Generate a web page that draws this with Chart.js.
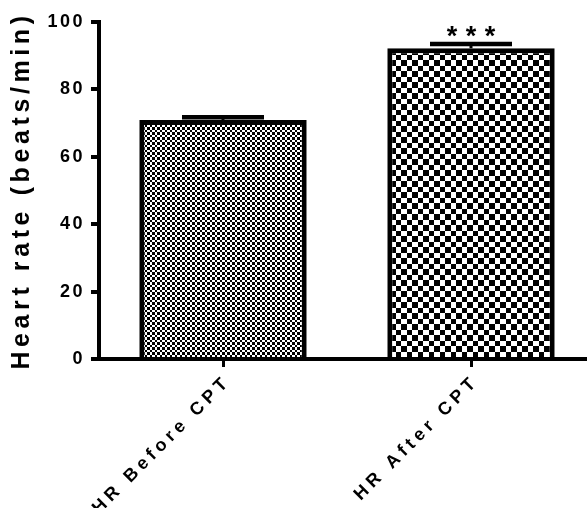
<!DOCTYPE html>
<html>
<head>
<meta charset="utf-8">
<script src="https://cdn.jsdelivr.net/npm/chart.js@4.4.1/dist/chart.umd.min.js"></script>
<style>
  html, body { margin: 0; padding: 0; background: #ffffff; overflow: hidden; }
  #wrap { width: 600px; height: 508px; position: relative; }
</style>
</head>
<body>
<div id="wrap"><canvas id="c"></canvas></div>
<script>
// ---- data ----
const categories = ['HR Before CPT', 'HR After CPT'];
const meanValues = [70.9, 92.2];
const semValues = [0.8, 1.3];
const significance = ['', '***'];
const yTickValues = [0, 20, 40, 60, 80, 100];
const yAxisTitle = 'Heart rate (beats/min)';

const FONT = "'Liberation Sans', Arial, Helvetica, sans-serif";

function checkerPattern(sizes) {
  const period = sizes.reduce((a, b) => a + b, 0);
  const tile = document.createElement('canvas');
  tile.width = period * 2; tile.height = period * 2;
  const t = tile.getContext('2d');
  t.fillStyle = '#ffffff'; t.fillRect(0, 0, tile.width, tile.height);
  t.fillStyle = '#000000';
  const edges = [];
  let p = 0;
  for (let r = 0; r < 2; r++) for (const s of sizes) { edges.push([p, s]); p += s; }
  edges.forEach(([yy, hh], i) => {
    edges.forEach(([xx, ww], j) => {
      if ((i + j) % 2 === 0) t.fillRect(xx, yy, ww, hh);
    });
  });
  return document.getElementById('c').getContext('2d').createPattern(tile, 'repeat');
}

const fills = [checkerPattern([2, 3]), checkerPattern([5, 6])];

function withSpacing(scale, name, sp) {
  const key = '__w_' + name;
  if (scale[key]) return;
  const orig = scale[name];
  scale[name] = function () {
    const c = this.ctx;
    const prevSp = c.letterSpacing;
    c.font = '1px monospace';   // force the next font assignment to be re-resolved
    c.letterSpacing = sp;
    try { return orig.apply(this, arguments); } finally { c.font = '1px monospace'; c.letterSpacing = prevSp; }
  };
  scale[key] = true;
}

const spacingPlugin = {
  id: 'spacing',
  beforeDraw(chart) {
    withSpacing(chart.scales.y, 'drawLabels', '2.5px');
    withSpacing(chart.scales.y, 'drawTitle', '4.6px');
    withSpacing(chart.scales.x, 'drawLabels', '4.5px');
  }
};

const errorBarPlugin = {
  id: 'errorBars',
  afterDatasetsDraw(chart) {
    const ctx = chart.ctx;
    const meta = chart.getDatasetMeta(0);
    const y = chart.scales.y;
    ctx.save();
    ctx.strokeStyle = '#000000';
    ctx.fillStyle = '#000000';
    meta.data.forEach((bar, i) => {
      const top = y.getPixelForValue(meanValues[i] + semValues[i]);
      const base = y.getPixelForValue(meanValues[i]);
      const cx = bar.x;
      ctx.lineWidth = 3;
      ctx.beginPath(); ctx.moveTo(cx, base); ctx.lineTo(cx, top); ctx.stroke();
      ctx.lineWidth = 4.5;
      ctx.beginPath(); ctx.moveTo(cx - 41, top); ctx.lineTo(cx + 41, top); ctx.stroke();
      if (significance[i]) {
        ctx.font = '1px monospace';
        ctx.letterSpacing = '8.5px';
        ctx.font = 'bold 27px ' + FONT;
        ctx.textAlign = 'center';
        ctx.textBaseline = 'alphabetic';
        ctx.fillText(significance[i], cx + 4.25, top + 1.5);
      }
    });
    ctx.restore();
  }
};

new Chart(document.getElementById('c'), {
  type: 'bar',
  data: {
    labels: categories,
    datasets: [{
      data: meanValues,
      backgroundColor: fills,
      borderColor: '#000000',
      borderWidth: 5,
      borderSkipped: 'start',
      barPercentage: 0.675,
      categoryPercentage: 1.0,
      inflateAmount: 0
    }]
  },
  options: {
    responsive: true,
    maintainAspectRatio: false,
    animation: false,
    devicePixelRatio: 1,
    layout: { padding: { top: 22, right: 5, left: 0, bottom: 0 } },
    plugins: { legend: { display: false }, tooltip: { enabled: false } },
    scales: {
      x: {
        grid: { display: true, drawOnChartArea: false, offset: false, tickLength: 8, lineWidth: 3, color: '#000000' },
        border: { display: true, width: 4, color: '#000000' },
        ticks: {
          minRotation: 45, maxRotation: 45, padding: 4, labelOffset: 5,
          color: '#000000',
          font: { family: FONT, size: 18, weight: 'bold' }
        },
        afterFit(scale) { scale.height = 149; }
      },
      y: {
        min: 0, max: 100,
        afterBuildTicks(scale) { scale.ticks = yTickValues.map(v => ({ value: v })); },
        grid: { display: true, drawOnChartArea: false, tickLength: 8, lineWidth: 4, color: '#000000' },
        border: { display: true, width: 4, color: '#000000' },
        ticks: {
          padding: 6,
          color: '#000000',
          font: { family: FONT, size: 18, weight: 'bold' }
        },
        title: {
          display: true,
          text: yAxisTitle,
          color: '#000000',
          padding: { top: 7, bottom: 0 },
          font: { family: FONT, size: 25, weight: 'bold' }
        },
        afterFit(scale) { scale.width = 99; }
      }
    }
  },
  plugins: [spacingPlugin, errorBarPlugin]
});
</script>
</body>
</html>
